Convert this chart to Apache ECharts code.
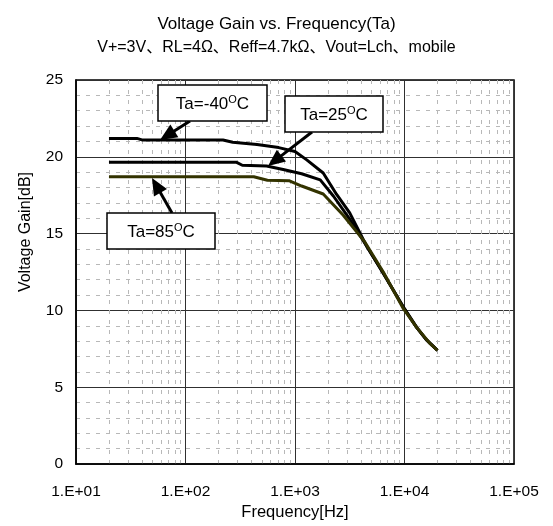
<!DOCTYPE html>
<html><head><meta charset="utf-8">
<script src="https://cdn.jsdelivr.net/npm/echarts@6/dist/echarts.min.js"></script>
<style>html,body{margin:0;padding:0;background:#fff}#c{width:553px;height:526px}</style>
</head><body><div id="c"></div>
<script>
// ---- data ----
const titleLines = ['Voltage Gain vs. Frequency(Ta)', 'V+=3V、RL=4Ω、Reff=4.7kΩ、Vout=Lch、mobile'];
const xTickLabels = ['1.E+01', '1.E+02', '1.E+03', '1.E+04', '1.E+05'];
const seriesNames = ['Ta=-40°C', 'Ta=25°C', 'Ta=85°C'];
const seriesColors = ['#000000', '#000000', '#333300'];

const freqM40 = [20, 36, 40, 220, 270, 450, 710, 1000, 1280, 1810, 2400, 3160, 4500, 6300, 10000, 12900, 15800, 20000];
const gainM40 = [21.2, 21.2, 21.1, 21.1, 20.95, 20.8, 20.6, 20.35, 19.8, 18.95, 17.55, 16.35, 14.2, 12.5, 10.1, 8.9, 8.1, 7.4];

const freq25 = [20, 290, 330, 550, 780, 1150, 1700, 2240, 3160, 4500, 6300, 10000, 12900, 15800, 20000];
const gain25 = [19.65, 19.65, 19.45, 19.4, 19.17, 18.9, 18.5, 17.45, 15.95, 14.2, 12.5, 10.1, 8.9, 8.1, 7.4];

const freq85 = [20, 420, 560, 880, 1150, 1810, 2760, 4300, 6400, 9800, 12900, 17100, 20000];
const gain85 = [18.7, 18.7, 18.48, 18.45, 18.1, 17.58, 16.2, 14.5, 12.5, 10.1, 8.9, 7.85, 7.4];

const FONT = "'Liberation Sans', Arial, 'Noto Sans CJK JP', sans-serif";

const chart = echarts.init(document.getElementById('c'), null, {renderer: 'canvas'});

function pairs(f, g) { return f.map((v, i) => [v, g[i]]); }

function arrow(x1, y1, x2, y2) {
  // tail (x1,y1) -> tip (x2,y2)
  const L = 17, W = 7.5;
  const dx = x2 - x1, dy = y2 - y1, d = Math.hypot(dx, dy);
  const ux = dx / d, uy = dy / d;
  const bx = x2 - ux * L, by = y2 - uy * L;
  return [
    {type: 'line', z: 100, shape: {x1: x1, y1: y1, x2: bx + ux * 2, y2: by + uy * 2},
     style: {stroke: '#000', lineWidth: 3}},
    {type: 'polygon', z: 100, shape: {points: [[x2, y2], [bx - uy * W, by + ux * W], [bx + uy * W, by - ux * W]]},
     style: {fill: '#000'}}
  ];
}

function labelBox(x, y, w, h, label) {
  const m = label.match(/^(Ta=-?\d+)°(C)$/);
  return [
    {type: 'rect', z: 100, shape: {x: x, y: y, width: w, height: h},
     style: {fill: '#fff', stroke: '#000', lineWidth: 1.5}},
    {type: 'text', z: 101, x: x + w / 2, y: y + h / 2 + 1,
     style: {text: m[1] + '{s|O}' + m[2], fontSize: 17, fontFamily: FONT, fill: '#000',
       align: 'center', verticalAlign: 'middle', lineHeight: 20,
       rich: {s: {fontSize: 11, fontFamily: FONT, verticalAlign: 'top', lineHeight: 12}}}}
  ];
}

const graphics = [].concat(
  arrow(190, 121, 160, 140),
  arrow(312, 132, 268, 166),
  arrow(172, 213, 152, 178),
  labelBox(158, 85, 109, 36, seriesNames[0]),
  labelBox(285, 96, 98, 36, seriesNames[1]),
  labelBox(107, 213, 108, 36, seriesNames[2])
);

const option = {
  animation: false,
  backgroundColor: '#fff',
  title: {
    text: '{a|' + titleLines[0] + '}\n{b|' + titleLines[1] + '}',
    left: 'center', top: 7,
    textStyle: {fontSize: 16, fontWeight: 'normal', color: '#000', fontFamily: FONT, lineHeight: 24,
      rich: {
        a: {fontSize: 17, fontFamily: FONT, color: '#000', lineHeight: 24},
        b: {fontSize: 16, fontFamily: FONT, color: '#000', lineHeight: 24}
      }}
  },
  grid: {left: 76, right: 39, top: 80, bottom: 60, show: true, borderColor: '#000', borderWidth: 1.5, containLabel: false},
  xAxis: {
    type: 'log', logBase: 10, min: 10, max: 100000,
    name: 'Frequency[Hz]', nameLocation: 'middle', nameGap: 39,
    nameTextStyle: {fontSize: 16.5, color: '#000', fontFamily: FONT},
    axisLine: {show: true, lineStyle: {color: '#000', width: 1.5}},
    axisTick: {show: false},
    axisLabel: {fontSize: 15.5, color: '#000', fontFamily: FONT, margin: 20,
      formatter: v => xTickLabels[Math.round(Math.log10(v)) - 1] || ''},
    splitLine: {show: true, lineStyle: {color: '#303030', width: 1}},
    minorTick: {show: false, splitNumber: 9},
    minorSplitLine: {show: true, lineStyle: {color: '#b8b8b8', width: 1, type: [4, 6]}}
  },
  yAxis: {
    type: 'value', min: 0, max: 25, interval: 5,
    name: 'Voltage Gain[dB]', nameLocation: 'middle', nameGap: 42,
    nameTextStyle: {fontSize: 16, color: '#000', fontFamily: FONT, padding: [0, 0, 0, 80]},
    axisLine: {show: true, lineStyle: {color: '#000', width: 1.5}},
    axisTick: {show: false},
    axisLabel: {fontSize: 15.5, color: '#000', fontFamily: FONT, margin: 13},
    splitLine: {show: true, lineStyle: {color: '#303030', width: 1}},
    minorTick: {show: false, splitNumber: 5},
    minorSplitLine: {show: true, lineStyle: {color: '#b8b8b8', width: 1, type: [4, 6]}}
  },
  series: [
    {name: seriesNames[0], type: 'line', showSymbol: false, data: pairs(freqM40, gainM40),
     lineStyle: {color: seriesColors[0], width: 3}, itemStyle: {color: seriesColors[0]}, z: 3},
    {name: seriesNames[1], type: 'line', showSymbol: false, data: pairs(freq25, gain25),
     lineStyle: {color: seriesColors[1], width: 3}, itemStyle: {color: seriesColors[1]}, z: 4},
    {name: seriesNames[2], type: 'line', showSymbol: false, data: pairs(freq85, gain85),
     lineStyle: {color: seriesColors[2], width: 3}, itemStyle: {color: seriesColors[2]}, z: 5}
  ],
  graphic: graphics
};
chart.setOption(option);
</script>
</body></html>
